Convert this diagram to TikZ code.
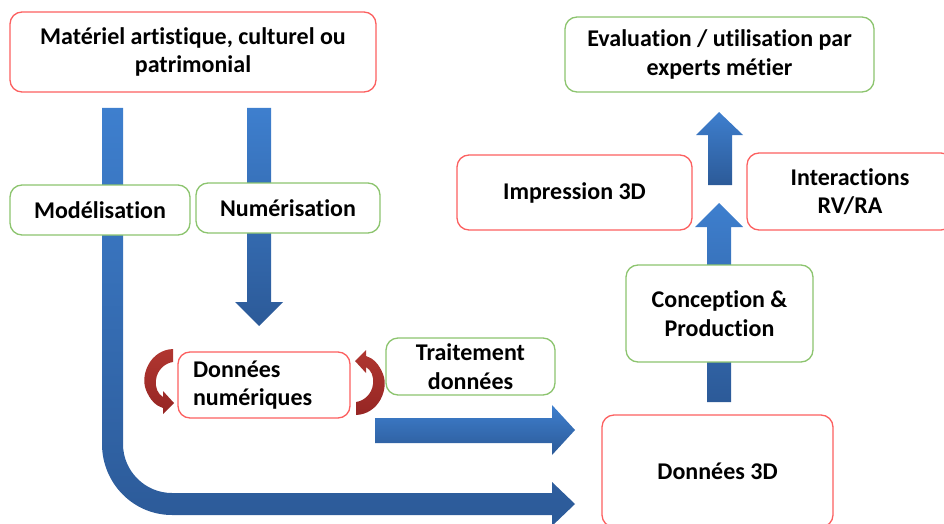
\documentclass[tikz,border=0pt]{standalone}
\usepackage{fontspec}
\setmainfont{Carlito}[RawFeature={-liga;-clig;-calt;-dlig;-rlig}]
\definecolor{boxred}{RGB}{252,96,96}
\definecolor{boxgreen}{RGB}{140,196,110}
\definecolor{bluetop}{RGB}{62,127,206}
\definecolor{bluebot}{RGB}{44,90,152}
\definecolor{redtop}{RGB}{176,54,48}
\definecolor{redbot}{RGB}{150,38,36}
\begin{document}
\begin{tikzpicture}[x=1pt,y=-1pt,
  box/.style={draw, rounded corners=12pt, line width=1.3pt, fill=white, inner sep=0pt,
    align=center, font=\bfseries\fontsize{24}{28.5}\selectfont},
  redbox/.style={box, draw=boxred},
  greenbox/.style={box, draw=boxgreen},
  bluearrow/.style={top color=bluetop, bottom color=bluebot, draw=none},
  redarrow/.style={top color=redtop, bottom color=redbot, draw=none}]
\useasboundingbox (0,0) rectangle (944,524);

% blue arrows (drawn first, behind boxes)
\path[bluearrow] (102,108) -- (123,108) -- (123,444)
  .. controls (123,471) and (145,493) .. (172,493) -- (552,493) -- (552,482)
  -- (575,504) -- (552,526) -- (552,515) -- (172,515)
  .. controls (133,515) and (102,483) .. (102,444) -- cycle;
\path[bluearrow] (247,108) -- (271,108) -- (271,302) -- (283,302) -- (259,326)
  -- (235,302) -- (247,302) -- cycle;
\path[bluearrow] (375,418) -- (552,418) -- (552,405) -- (575,430) -- (552,455)
  -- (552,443) -- (375,443) -- cycle;
\path[bluearrow] (708,185) -- (708,135) -- (696,135) -- (719,112) -- (743,135)
  -- (732,135) -- (732,185) -- cycle;
\path[bluearrow] (707,402) -- (707,227) -- (695,227) -- (719,203) -- (743,227)
  -- (731,227) -- (731,402) -- cycle;

% red curved arrows
\path[redarrow] (173,349) .. controls (150,350) and (140,375) .. (146,390)
  .. controls (150,400) and (156,406) .. (163,408) -- (163,414) -- (174,403)
  -- (163,391) -- (163,397) .. controls (158,394) and (155,388) .. (156,380)
  .. controls (157,370) and (165,363) .. (173,362) -- cycle;
\begin{scope}[rotate around={180:(264.5,382)}]
\path[redarrow] (173,349) .. controls (150,350) and (140,375) .. (146,390)
  .. controls (150,400) and (156,406) .. (163,408) -- (163,414) -- (174,403)
  -- (163,391) -- (163,397) .. controls (158,394) and (155,388) .. (156,380)
  .. controls (157,370) and (165,363) .. (173,362) -- cycle;
\end{scope}

% boxes
\node[redbox, minimum width=366pt, minimum height=80pt] (mat) at (193,52)
  {Matériel artistique, culturel ou\\patrimonial};
\node[greenbox, minimum width=180pt, minimum height=50pt] (mod) at (100,210) {Modélisation};
\node[greenbox, minimum width=184pt, minimum height=50pt] (num) at (288,208) {Numérisation};
\node[redbox, minimum width=172pt, minimum height=66pt, text width=142pt, align=left]
  (dn) at (264,385) {Données\\numériques};
\node[greenbox, minimum width=169pt, minimum height=57pt] (trt) at (470.5,366.5)
  {Traitement\\données};
\node[redbox, minimum width=231pt, minimum height=112pt] (d3d) at (717.5,471) {Données 3D};
\node[greenbox, minimum width=187pt, minimum height=97pt] (conc) at (719.5,313.5)
  {Conception \&\\Production};
\node[redbox, minimum width=235pt, minimum height=75pt] (imp) at (574.5,192.5) {Impression 3D};
\node[redbox, minimum width=206pt, minimum height=77pt] (inter) at (850,191.5)
  {Interactions\\RV/RA};
\node[greenbox, minimum width=309pt, minimum height=75pt] (eval) at (719.5,54.5)
  {Evaluation / utilisation par\\experts métier};
\end{tikzpicture}
\end{document}
